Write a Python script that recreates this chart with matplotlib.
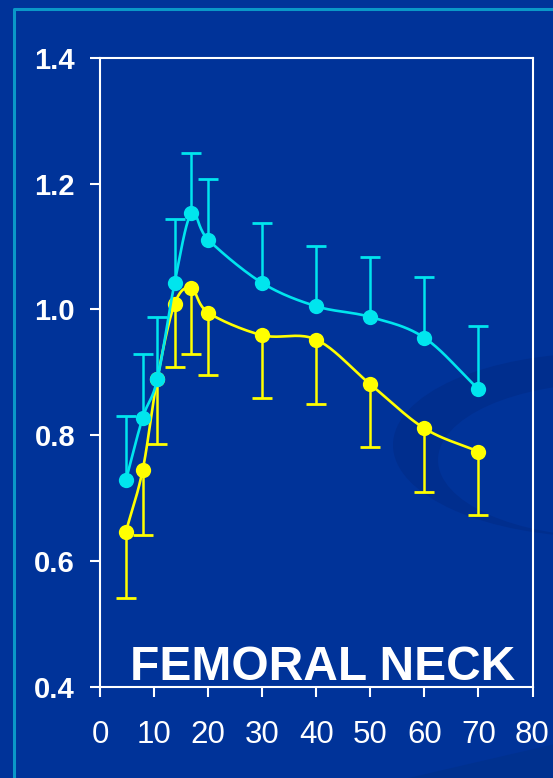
import numpy as np
import matplotlib.pyplot as plt
from matplotlib import font_manager
from matplotlib.patches import Ellipse, Polygon
from matplotlib.lines import Line2D

# age (years) and values
age = [4.8, 7.9, 10.6, 13.8, 16.9, 20, 30, 40, 50, 60, 70]
cyan_mean = [0.729, 0.828, 0.889, 1.042, 1.153, 1.111, 1.042, 1.005, 0.988, 0.955, 0.873]
cyan_sd = [0.101, 0.101, 0.099, 0.101, 0.096, 0.097, 0.096, 0.096, 0.096, 0.096, 0.101]
yellow_mean = [0.647, 0.745, 0.890, 1.009, 1.034, 0.995, 0.959, 0.952, 0.881, 0.811, 0.774]
yellow_sd = [0.105, 0.104, 0.104, 0.101, 0.105, 0.099, 0.100, 0.102, 0.100, 0.101, 0.100]

x_ticks = [0, 10, 20, 30, 40, 50, 60, 70, 80]
y_ticks = [0.4, 0.6, 0.8, 1.0, 1.2, 1.4]
y_labels = ["0.4", "0.6", "0.8", "1.0", "1.2", "1.4"]
title = "FEMORAL NECK"

BG = "#003399"
FRAME = "#0A98C8"
SWOOSH = "#002E8E"
CORNER = "#00318F"
CYAN = "#00E5EE"
YELLOW = "#FFFF00"


def smooth(x, y, n=24):
    """Catmull-Rom curve through the points (smoothed line look)."""
    x = np.asarray(x, float)
    y = np.asarray(y, float)
    px = np.concatenate([[2 * x[0] - x[1]], x, [2 * x[-1] - x[-2]]])
    py = np.concatenate([[2 * y[0] - y[1]], y, [2 * y[-1] - y[-2]]])
    t = np.linspace(0, 1, n)
    xs, ys = [], []
    for i in range(1, len(px) - 2):
        for p, out in ((px, xs), (py, ys)):
            p0, p1, p2, p3 = p[i - 1], p[i], p[i + 1], p[i + 2]
            seg = 0.5 * ((2 * p1) + (-p0 + p2) * t
                         + (2 * p0 - 5 * p1 + 4 * p2 - p3) * t**2
                         + (-p0 + 3 * p1 - 3 * p2 + p3) * t**3)
            out.extend(seg if i == len(px) - 3 else seg[:-1])
    return np.array(xs), np.array(ys)


# x tick labels are a narrow sans in the original
available = {f.name for f in font_manager.fontManager.ttflist}
narrow = next((n for n in ["Liberation Sans Narrow", "Arial Narrow"] if n in available), None)
xfont, xsize = (narrow, 24) if narrow else ("Liberation Sans", 22.5)

fig = plt.figure(figsize=(5.53, 7.78), dpi=100, facecolor=BG)

# background decoration in pixel units
bg = fig.add_axes([0, 0, 1, 1], zorder=0)
bg.set_xlim(0, 553)
bg.set_ylim(778, 0)
bg.axis("off")
bg.add_patch(Ellipse((600, 445), 414, 184, facecolor=SWOOSH, edgecolor="none"))
bg.add_patch(Ellipse((610, 460), 344, 154, facecolor=BG, edgecolor="none"))
bg.add_patch(Polygon([(400, 780), (555, 744), (555, 780)], facecolor=CORNER, edgecolor="none"))
bg.add_line(Line2D([13.8, 13.8, 560], [790, 8.7, 8.7], color=FRAME, lw=2.2))

ax = fig.add_axes([100 / 553, (778 - 687) / 778, 432.5 / 553, (687 - 57.7) / 778], zorder=1)
ax.set_facecolor("none")
ax.set_xlim(0, 80)
ax.set_ylim(0.4, 1.4)

for s in ax.spines.values():
    s.set_color("white")
    s.set_linewidth(1.5)

ax.set_xticks(x_ticks)
ax.set_yticks(y_ticks)
ax.set_yticklabels(y_labels)
ax.tick_params(axis="both", direction="out", length=7, width=1.5, color="white")
ax.tick_params(axis="y", pad=11)
ax.tick_params(axis="x", pad=17)
for lab in ax.get_yticklabels():
    lab.set_fontfamily("Liberation Sans")
    lab.set_fontweight("bold")
    lab.set_fontsize(21)
    lab.set_color("white")
for lab in ax.get_xticklabels():
    lab.set_fontfamily(xfont)
    lab.set_fontsize(xsize)
    lab.set_color("white")

age_a = np.array(age)
for mean, sd, col, up in ((yellow_mean, yellow_sd, YELLOW, False),
                          (cyan_mean, cyan_sd, CYAN, True)):
    mean = np.array(mean)
    sd = np.array(sd)
    end = mean + sd if up else mean - sd
    ax.vlines(age_a, mean, end, color=col, lw=1.8)
    ax.plot(age_a, end, ls="none", marker="_", ms=14, mew=2, color=col)
    sx, sy = smooth(age_a, mean)
    ax.plot(sx, sy, color=col, lw=1.9)
    ax.plot(age_a, mean, ls="none", marker="o", ms=11, mew=0, color=col)

ax.text(5.5, 0.411, title, color="white", fontsize=34.5, fontweight="bold",
        fontfamily="Liberation Sans", ha="left", va="baseline")

fig.savefig("out.png", dpi=100, facecolor=BG)
